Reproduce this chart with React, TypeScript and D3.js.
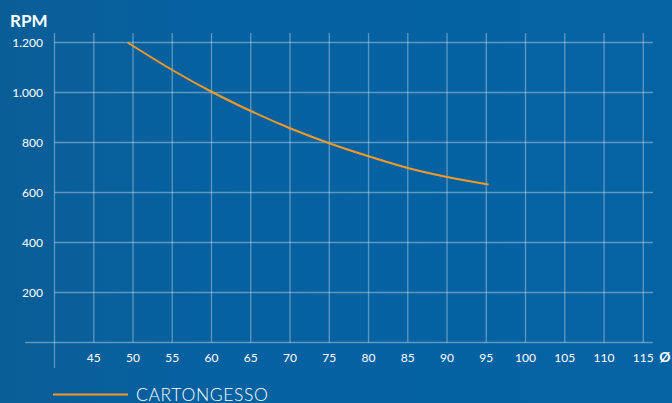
import React from "react";
import * as d3 from "d3";

const xTicks = [45, 50, 55, 60, 65, 70, 75, 80, 85, 90, 95, 100, 105, 110, 115];
const yTicks = [200, 400, 600, 800, 1000, 1200];
const yTickLabels = ["200", "400", "600", "800", "1.000", "1.200"];
const diameters = [49.3, 55, 60, 65, 70, 75, 80, 85, 90, 95.3];
const rpm = [1200, 1090, 1003, 926, 857, 797, 745, 698, 662, 632];
const seriesName = "CARTONGESSO";

const W = 672;
const H = 403;

export default function App() {
  const x = d3.scaleLinear().domain([40, 115]).range([54.5, 643.3]);
  const y = d3.scaleLinear().domain([0, 1200]).range([342.5, 42.5]);
  const line = d3
    .line<number>()
    .x((_, i) => x(diameters[i]))
    .y((d) => y(d))
    .curve(d3.curveCatmullRom.alpha(0.5));
  const font = "Lato, 'Open Sans', sans-serif";
  const grid = "rgba(255,255,255,0.35)";
  return (
    <svg
      width={W}
      height={H}
      style={{ position: "absolute", left: 0, top: 0, display: "block" }}
      fontFamily={font}
    >
      <defs>
        <linearGradient id="bg" x1="0" x2="1" y1="0" y2="0">
          <stop offset="0" stopColor="#0a5e97" />
          <stop offset="0.3" stopColor="#0661a0" />
          <stop offset="1" stopColor="#0563a4" />
        </linearGradient>
      </defs>
      <rect x={0} y={0} width={W} height={H} fill="url(#bg)" />
      {yTicks.map((t) => (
        <line key={"h" + t} x1={54.5} x2={653} y1={y(t)} y2={y(t)} stroke={grid} strokeWidth={1.3} />
      ))}
      <line x1={25} x2={653} y1={y(0)} y2={y(0)} stroke={grid} strokeWidth={1.3} />
      {xTicks.map((t) => (
        <line key={"v" + t} x1={x(t)} x2={x(t)} y1={33} y2={y(0)} stroke={grid} strokeWidth={1.3} />
      ))}
      <line x1={x(40)} x2={x(40)} y1={33} y2={368} stroke={grid} strokeWidth={1.3} />
      {yTicks.map((t, i) => (
        <text
          key={"yl" + t}
          x={43}
          y={y(t)}
          dy="0.35em"
          textAnchor="end"
          fill="#ffffff"
          fontSize={12}
        >
          {yTickLabels[i]}
        </text>
      ))}
      {xTicks.map((t) => (
        <text
          key={"xl" + t}
          x={x(t)}
          y={357.5}
          dy="0.35em"
          textAnchor="middle"
          fill="#ffffff"
          fontSize={12}
        >
          {t}
        </text>
      ))}
      <text x={665} y={357} dy="0.35em" textAnchor="middle" fill="#ffffff" fontSize={14} fontWeight="bold">
        Ø
      </text>
      <text x={10} y={27} fill="#ffffff" fontSize={17} fontWeight="bold">
        RPM
      </text>
      <path d={line(rpm) || ""} fill="none" stroke="#f39a26" strokeWidth={2} />
      <line x1={53} x2={128} y1={394.5} y2={394.5} stroke="#f39a26" strokeWidth={2} />
      <text x={136} y={400.5} fill="#ffffff" fontSize={17.5} fontWeight={300} letterSpacing={0.65}>
        {seriesName}
      </text>
    </svg>
  );
}
